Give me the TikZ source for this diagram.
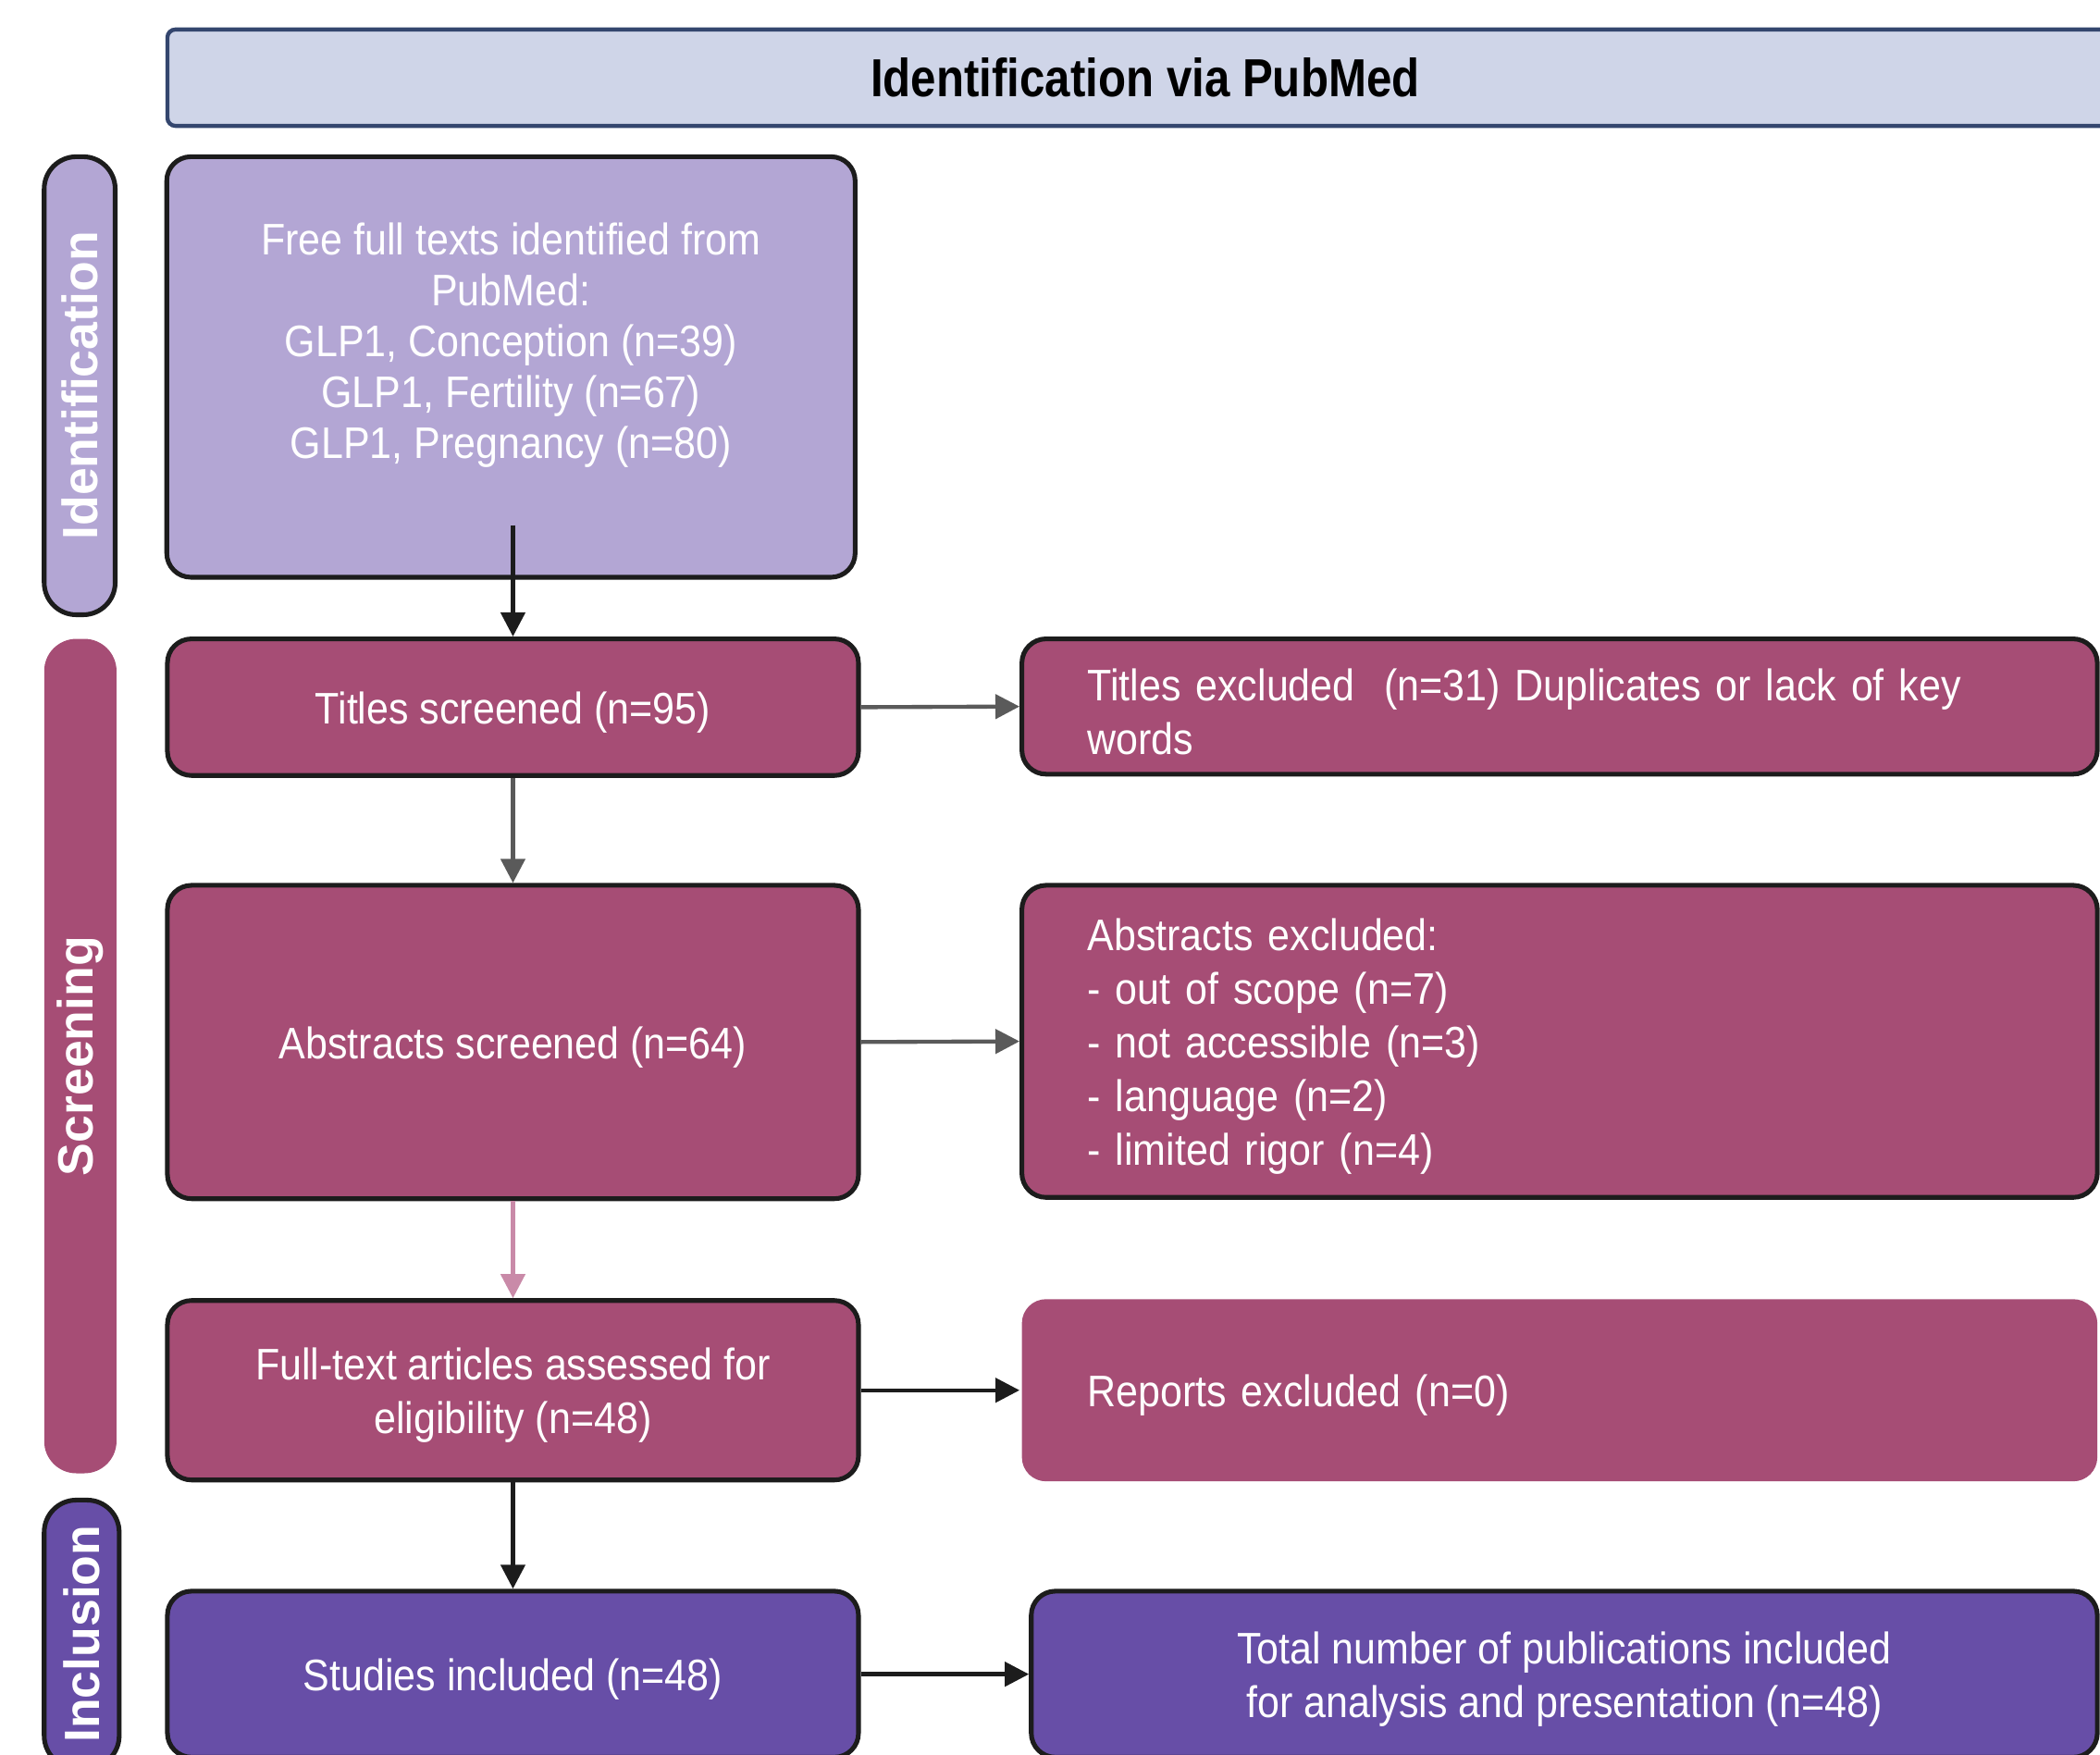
\documentclass[tikz,border=0pt]{standalone}
\usepackage{fontspec}
\setmainfont{Liberation Sans}[FakeStretch=0.9]
\newfontfamily\headfont{Liberation Sans}[FakeStretch=0.85]
\newfontfamily\phasefont{Liberation Sans}
\usetikzlibrary{arrows.meta}
\definecolor{gllilac}{HTML}{B3A6D4}
\definecolor{glmauve}{HTML}{A64D75}
\definecolor{glplum}{HTML}{674EA7}
\definecolor{glbanner}{HTML}{CFD5E8}
\definecolor{glnavy}{HTML}{34466E}
\definecolor{glink}{HTML}{1C1C1C}
\definecolor{glgrey}{HTML}{5A5A5A}
\definecolor{glpink}{HTML}{C98AA8}
\newcommand\boxstrut{\rule{0pt}{32pt}}
\tikzset{
  lbl/.style={rounded corners=24pt, text=white, rotate=90, inner sep=0pt, font=\phasefont\bfseries\fontsize{37}{40}\selectfont},
  hdr/.style={draw=glnavy, line width=3pt, fill=glbanner, rounded corners=6pt, font=\headfont\bfseries\fontsize{40}{44}\selectfont},
  ibox/.style={draw=glink, line width=3.5pt, fill=gllilac, rounded corners=18pt},
  sbox/.style={draw=glink, line width=3.5pt, fill=glmauve, rounded corners=18pt, text=white, align=center, font=\fontsize{33}{40}\selectfont},
  pbox/.style={draw=glink, line width=3.5pt, fill=glplum, rounded corners=18pt, text=white, align=center, font=\fontsize{33}{40}\selectfont},
  xbox/.style={text width=705pt, inner xsep=49pt, align=left},
  txt/.style={text=white, align=center, font=\fontsize{33}{38}\selectfont},
  arr/.style={-{Triangle[length=18pt,width=18pt]}, line width=3pt, color=glink},
}
\begin{document}
\begin{tikzpicture}[x=1pt,y=-1pt]
  \useasboundingbox (0,0) rectangle (1568,1310);
  % header
  \node[hdr, minimum width=1460pt, minimum height=72pt] (head) at (855,58) {Identification via PubMed};
  % phase labels
  \node[lbl, fill=gllilac, draw=glink, line width=3.5pt, minimum width=342pt, minimum height=53pt] (labid) at (59.5,288) {Identification};
  \node[lbl, fill=glmauve, minimum width=623pt, minimum height=54pt] (labscr) at (60,788.5) {Screening};
  \node[lbl, fill=glplum, draw=glink, line width=3.5pt, minimum width=200pt, minimum height=56pt] (labinc) at (61,1220) {Inclusion};
  % left column
  \node[ibox, minimum width=514pt, minimum height=314pt] (ident) at (381.5,274) {};
  \node[txt] (identtxt) at ([yshift=16pt]ident.center) {Free full texts identified from\\PubMed:\\GLP1, Conception (n=39)\\GLP1, Fertility (n=67)\\GLP1, Pregnancy (n=80)};
  \node[sbox, minimum width=516pt, minimum height=102pt] (titles) at (383,528) {\boxstrut Titles screened (n=95)};
  \node[sbox, minimum width=516pt, minimum height=234pt] (abstr) at (383,778) {\boxstrut Abstracts screened (n=64)};
  \node[sbox, minimum width=516pt, minimum height=134pt] (fulltxt) at (383,1038) {\boxstrut Full-text articles assessed for\\eligibility (n=48)};
  \node[pbox, minimum width=516pt, minimum height=124pt] (studies) at (383,1250) {\boxstrut Studies included (n=48)};
  % right column
  \node[sbox, xbox, minimum height=101pt] (titlesx) at (1164.5,527.5) {\boxstrut Titles excluded\ \ (n=31) Duplicates or lack of key\\words};
  \node[sbox, xbox, minimum height=233pt] (abstrx) at (1164.5,777.5) {\boxstrut Abstracts excluded:\\- out of scope (n=7)\\- not accessible (n=3)\\- language (n=2)\\- limited rigor (n=4)};
  \node[sbox, xbox, draw=none, minimum height=136pt] (reportsx) at (1164.5,1038) {\boxstrut Reports excluded (n=0)};
  \node[pbox, minimum width=796pt, minimum height=124pt] (total) at (1168,1250) {\boxstrut Total number of publications included\\ for analysis and presentation (n=48)};
  % arrows
  \coordinate (identfoot) at (383,392);
  \draw[arr] (identfoot) -- (titles.north);
  \draw[arr, glgrey] (titles.south) -- (abstr.north);
  \draw[arr, glpink] (abstr.south) -- (fulltxt.north);
  \draw[arr] (fulltxt.south) -- (studies.north);
  \draw[arr, glgrey] (titles.east) -- (titlesx.west);
  \draw[arr, glgrey] (abstr.east) -- (abstrx.west);
  \draw[arr] (fulltxt.east) -- (reportsx.west);
  \draw[arr] (studies.east) -- (total.west);
\end{tikzpicture}
\end{document}
